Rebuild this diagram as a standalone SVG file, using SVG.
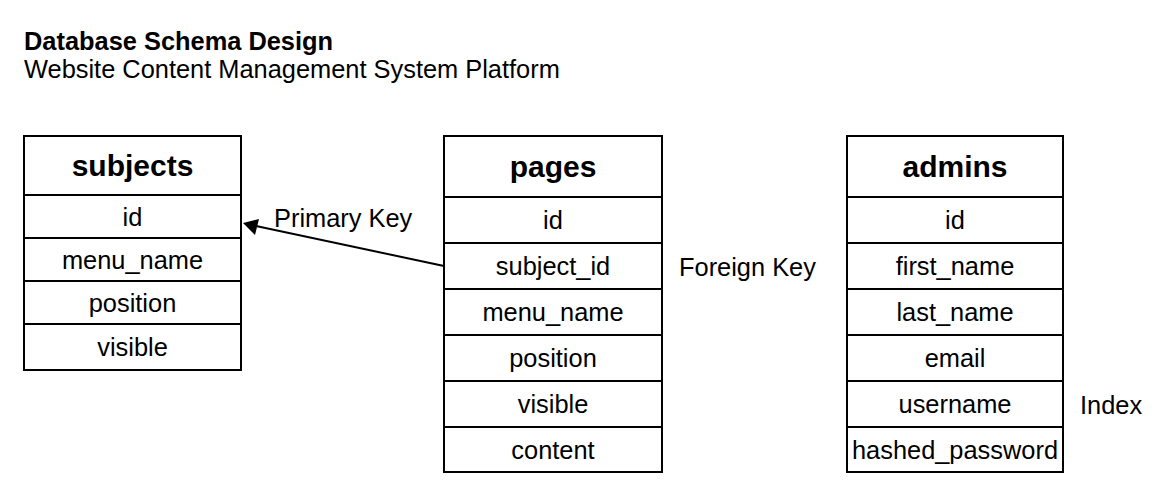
<svg xmlns="http://www.w3.org/2000/svg" width="1171" height="503" viewBox="0 0 1171 503">
<style>
text{font-family:"Liberation Sans",Arial,sans-serif;fill:#000}
.t{font-size:25.4px;font-weight:bold}
.s{font-size:25.4px}
.h{font-size:30px;font-weight:bold;text-anchor:middle}
.r{font-size:25.4px;text-anchor:middle}
.l{font-size:25.4px}
.box{fill:#fff;stroke:#000;stroke-width:2}
.ln{stroke:#000;stroke-width:2;fill:none}
</style>
<rect width="1171" height="503" fill="#fff"/>
<text class="t" x="24" y="50">Database Schema Design</text>
<text class="s" x="24" y="78">Website Content Management System Platform</text>

<g id="subjects">
<rect class="box" x="24" y="136" width="217" height="234"/>
<path class="ln" d="M24,195H241M24,238H241M24,281H241M24,324H241"/>
<text class="h" x="132.5" y="176">subjects</text>
<text class="r" x="132.5" y="226">id</text>
<text class="r" x="132.5" y="269">menu_name</text>
<text class="r" x="132.5" y="312">position</text>
<text class="r" x="132.5" y="356">visible</text>
</g>

<g id="pages">
<rect class="box" x="444" y="136" width="218" height="336"/>
<path class="ln" d="M444,197H662M444,243H662M444,289H662M444,335H662M444,381H662M444,427H662"/>
<text class="h" x="553" y="177">pages</text>
<text class="r" x="553" y="229">id</text>
<text class="r" x="553" y="275">subject_id</text>
<text class="r" x="553" y="321">menu_name</text>
<text class="r" x="553" y="367">position</text>
<text class="r" x="553" y="413">visible</text>
<text class="r" x="553" y="459">content</text>
</g>

<g id="admins">
<rect class="box" x="847" y="136" width="216" height="336"/>
<path class="ln" d="M847,197H1063M847,243H1063M847,289H1063M847,335H1063M847,381H1063M847,427H1063"/>
<text class="h" x="955" y="177">admins</text>
<text class="r" x="955" y="229">id</text>
<text class="r" x="955" y="275">first_name</text>
<text class="r" x="955" y="321">last_name</text>
<text class="r" x="955" y="367">email</text>
<text class="r" x="955" y="413">username</text>
<text class="r" x="955" y="459">hashed_password</text>
</g>

<g id="connectors">
<line class="ln" x1="444" y1="266" x2="256" y2="226"/>
<path d="M243,223 L259,219 L255,235 z" fill="#000"/>
</g>

<g id="labels">
<text class="l" x="274" y="227">Primary Key</text>
<text class="l" x="679" y="276">Foreign Key</text>
<text class="l" x="1080" y="414">Index</text>
</g>
</svg>
